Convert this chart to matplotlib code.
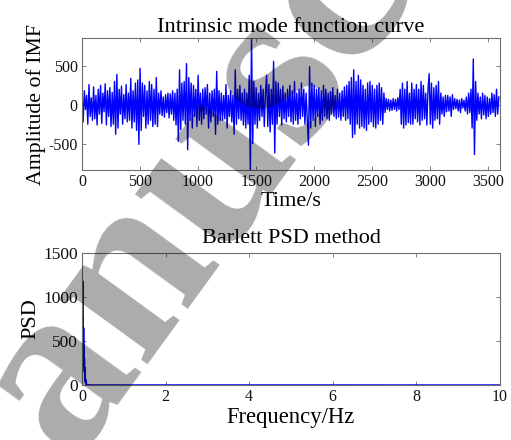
import numpy as np
import matplotlib
matplotlib.use("Agg")
import matplotlib.pyplot as plt

# ---- data: IMF signal (one every 10 s) ----
imf_step_s = 10
imf_values = [
    150, -220, 180, -60, 120, -250, 260, -150, 90, -200, 230, -180, 120, -260, 200,
    -120, 250, -240, 150, -90, 270, -260, 180, -150, 220, -280, 160, -250, 300, -380,
    390, -300, 200, -120, 240, -250, 130, -180, 260, -220, 150, -200, 340, -300, 180,
    -220, 280, -330, 320, -510, 470, -330, 280, -150, 250, -300, 180, -250, 300, -200,
    260, -280, 200, -250, 350, -280, 150, -120, 180, -140, 100, -160, 130, -100, 150,
    -170, 140, -120, 180, -200, 150, -260, 200, -470, 450, -320, 280, -200, 300, -250,
    530, -580, 350, -200, 280, -300, 250, -150, 200, -280, 380, -200, 150, -250, 200,
    -180, 220, -120, 260, -300, 150, -220, 180, -150, 200, -380, 430, -250, 180, -200,
    150, -200, 120, -180, 260, -300, 120, -150, 180, -220, 120, -380, 450, -250, 200,
    -180, 250, -200, 150, -260, 200, -300, 150, -250, 380, -900, 900, -500, 300, -250,
    220, -300, 150, -200, 250, -150, 200, -280, 150, 380, -280, 260, -350, 200, -250,
    560, -620, 300, -250, 280, -150, 200, -260, 240, -180, 150, -220, 200, -150, 250,
    -220, 180, -250, 300, -200, 150, -250, 200, -180, 280, -150, 200, -250, 150, -200,
    -520, 490, -300, 280, -200, 250, -280, 200, -150, 220, -250, 180, -200, 250, -150,
    200, -180, 150, -200, 170, -120, 220, -150, 120, -180, 200, -160, 150, -200, 180,
    -150, 230, -200, 250, -180, 300, -250, 350, -420, 450, -380, 300, -250, 380, -300,
    320, -280, 250, -300, 200, -330, 280, -250, 300, -220, 250, -280, 200, -300, 250,
    -250, 280, -200, 220, -250, 150, -100, 80, -60, 70, -80, 60, -70, 80, -60,
    70, -80, 90, -60, 200, -250, 280, -300, 200, -260, 300, -230, 150, -250, 280,
    -250, 200, -180, 260, -220, 200, -260, 300, -200, 250, -180, 150, -260, 200, 400,
    -250, 280, -300, 220, -200, 250, -180, 300, -250, 150, -120, 100, -150, 120, -90,
    120, -80, 100, -150, 130, -60, 80, -50, 70, -80, 60, -100, 80, -40, 60,
    -80, 100, -120, 150, -100, 200, -300, 590, -640, 300, -200, 150, -120, 100, -180,
    150, -130, 120, -180, 100, -150, 80, -120, 150, -100, 130, -150, 200, -120, 100,
]
imf_time = np.arange(len(imf_values)) * imf_step_s

# ---- data: Barlett PSD ----
psd_freq = [0.0, 0.005, 0.01, 0.015, 0.02, 0.025, 0.03, 0.035, 0.04, 0.045,
            0.05, 0.055, 0.06, 0.065, 0.07, 0.075, 0.08, 0.085, 0.09, 0.095,
            0.1, 0.11, 0.12, 0.15, 0.3, 10.0]
psd_values = [5, 150, 600, 900, 1180, 400, 800, 300, 650, 200,
              450, 150, 300, 80, 200, 40, 120, 20, 60, 8,
              30, 10, 5, 2, 1, 0.5]

top_xticks = [0, 500, 1000, 1500, 2000, 2500, 3000, 3500]
top_yticks = [-500, 0, 500]
bot_xticks = [0, 2, 4, 6, 8, 10]
bot_yticks = [0, 500, 1000, 1500]

plt.rcParams['font.family'] = ['Liberation Serif', 'DejaVu Serif']
W, H = 511, 440
fig = plt.figure(figsize=(W / 100, H / 100), dpi=100)

frame_col = '#6e6e6e'
line_col = (0, 0, 1)
serif = ['Liberation Serif', 'DejaVu Serif']


def style(ax, xt, yt, ysize=11.5):
    for s in ax.spines.values():
        s.set_color(frame_col)
        s.set_linewidth(0.8)
    ax.set_xticks(xt)
    ax.set_xticklabels([str(v) for v in xt], family=serif, fontsize=11.5,
                       color='#111111')
    ax.set_yticks(yt)
    ax.set_yticklabels([str(v) for v in yt], family=serif, fontsize=ysize,
                       color='#111111')
    ax.tick_params(direction='in', length=3, width=0.6, color=frame_col,
                   top=True, right=True, pad=3)


ax1 = fig.add_axes([82 / W, 1 - 170 / H, 418 / W, 132 / H])
ax1.plot(imf_time, imf_values, color=line_col, lw=1.0)
ax1.set_xlim(0, 3600)
ax1.set_ylim(-840, 860)
style(ax1, top_xticks, top_yticks)
ax1.set_title('Intrinsic mode function curve', fontsize=16.2, pad=4)
ax1.set_xlabel('Time/s', fontsize=16, labelpad=1)
ax1.set_ylabel('Amplitude of IMF', fontsize=15.7, labelpad=2)

ax2 = fig.add_axes([82 / W, 1 - 385 / H, 418 / W, 132 / H])
ax2.plot(psd_freq, psd_values, color=line_col, lw=1.0)
ax2.set_xlim(0, 10)
ax2.set_ylim(0, 1500)
style(ax2, bot_xticks, bot_yticks, ysize=12.5)
ax2.set_title('Barlett PSD method', fontsize=16, pad=7)
ax2.set_xlabel('Frequency/Hz', fontsize=16.3, labelpad=1)
ax2.set_ylabel('PSD', fontsize=16, labelpad=2)

# watermark
fig.text(0.48, 0.71, 'Manuscript', fontsize=172, color='black', alpha=0.33,
         rotation=54, ha='center', va='center', rotation_mode='anchor',
         family='Liberation Serif', fontweight='bold', zorder=10)

fig.savefig('out.png', dpi=100)
